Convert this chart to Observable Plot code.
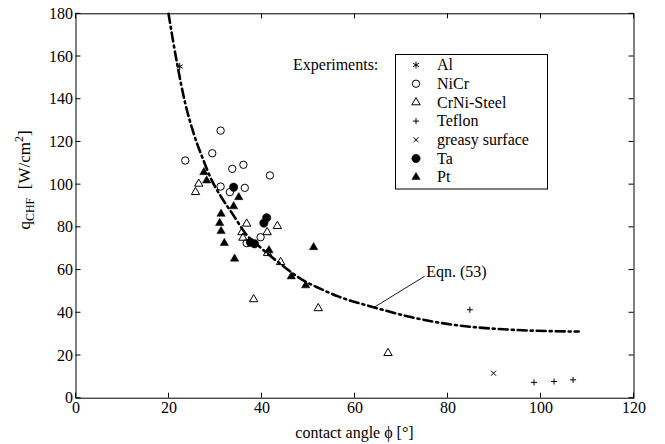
<!DOCTYPE html>
<html><head><meta charset="utf-8">
<script src="https://cdn.jsdelivr.net/npm/d3@7"></script>
<script src="https://cdn.jsdelivr.net/npm/@observablehq/plot@0.6"></script>
<style>body{margin:0;background:#fff} svg{font-family:"Liberation Serif",serif}</style>
</head><body><div id="chart"></div>
<script>
const xTicks = [0, 20, 40, 60, 80, 100, 120];
const yTicks = [0, 20, 40, 60, 80, 100, 120, 140, 160, 180];

const al = [[22.3, 155.3]];
const niCr = [[31.1,125.3],[23.5,111.3],[29.3,114.7],[33.6,107.4],[36.0,109.3],[41.7,104.3],[31.1,99.1],[33.1,96.5],[36.3,98.5],[39.7,75.4],[36.7,72.6]];
const crNiSteel = [[26.4,100.4],[25.7,96.5],[36.7,81.7],[35.7,77.7],[35.9,75.1],[43.3,80.6],[41.1,77.7],[41.2,67.9],[44.0,63.7],[38.2,46.3],[52.1,42.1],[67.1,21.1]];
const teflon = [[84.7,41.4],[98.5,7.4],[102.8,7.8],[106.9,8.6]];
const greasy = [[89.8,11.7]];
const ta = [[33.9,98.8],[41.0,84.5],[40.4,82.0],[37.5,73.0],[38.4,72.3]];
const pt = [[27.5,105.8],[28.1,101.9],[35.0,94.1],[33.9,89.8],[31.2,86.3],[30.9,82.0],[31.2,78.2],[31.9,72.6],[34.1,65.3],[41.5,69.2],[51.1,70.7],[46.3,57.0],[49.4,52.8]];

const eqn53 = [[19.9,180],[21.8,156],[23.5,138],[25.3,124],[27.3,112],[29.2,102],[31.3,94],[33.9,85.5],[36.5,77],[39.7,70.5],[43.6,63.5],[48.6,55.5],[52.6,51.2],[56.2,47.8],[64,42.6],[72,38],[79.8,34.8],[94.2,32],[108.1,31.2]];
const eqnLeader = [[64, 42.4], [74.9, 57]];
const eqnLabel = {x: 75.3, y: 59.3, text: "Eqn. (53)"};

const legendTitle = "Experiments:";
const legendNames = ["Al", "NiCr", "CrNi-Steel", "Teflon", "greasy surface", "Ta", "Pt"];
const legendSymbols = ["asterisk", "circle", "triangle", "plus", "times", "circle", "triangle"];
const legendFilled = [false, false, false, false, false, true, true];
const legendR = [3.3, 3.7, 3.1, 2.1, 2.4, 4.2, 3.1];

const px = d => d[0], py = d => d[1];

const chart = Plot.plot({
  width: 665, height: 444,
  marginLeft: 75.5, marginRight: 31.5, marginTop: 13.3, marginBottom: 46.3,
  style: {fontFamily: "Liberation Serif, serif", fontSize: "16px", color: "black", background: "white", overflow: "visible"},
  x: {domain: [0, 120], label: null},
  y: {domain: [0, 180], label: null},
  marks: [
    Plot.axisX(xTicks, {tickSize: 0, tickPadding: 3, fontSize: 16, fill: "black"}),
    Plot.axisY(yTicks, {tickSize: 0, tickPadding: 3, fontSize: 16, fill: "black"}),
    Plot.frame({stroke: "black", strokeWidth: 1}),
    Plot.line(eqn53, {x: px, y: py, curve: "monotone-x", stroke: "black", strokeWidth: 2.6, strokeDasharray: "9,4,2,4"}),
    Plot.line(eqnLeader, {x: px, y: py, stroke: "black", strokeWidth: 0.9}),
    Plot.text([eqnLabel], {x: "x", y: "y", text: "text", textAnchor: "start", fontSize: 16, fill: "black"}),
    Plot.dot(al, {x: px, y: py, symbol: "asterisk", r: 3.3, stroke: "black", strokeWidth: 1}),
    Plot.dot(niCr, {x: px, y: py, symbol: "circle", r: 3.7, stroke: "black", fill: "none", strokeWidth: 1}),
    Plot.dot(crNiSteel, {x: px, y: py, symbol: "triangle", r: 3.1, stroke: "black", fill: "none", strokeWidth: 1}),
    Plot.dot(teflon, {x: px, y: py, symbol: "plus", r: 2.1, stroke: "black", strokeWidth: 1}),
    Plot.dot(greasy, {x: px, y: py, symbol: "times", r: 2.4, stroke: "black", strokeWidth: 1}),
    Plot.dot(ta, {x: px, y: py, symbol: "circle", r: 4.2, fill: "black", stroke: "black", strokeWidth: 0.5}),
    Plot.dot(pt, {x: px, y: py, symbol: "triangle", r: 3.1, fill: "black", stroke: "black", strokeWidth: 0.5})
  ]
});

const svg = d3.select(chart);
const sx = chart.scale("x"), sy = chart.scale("y");
const xL = sx.apply(0), xR = sx.apply(120), yB = sy.apply(0), yT = sy.apply(180);
const tg = svg.append("g").attr("stroke", "black").attr("stroke-width", 1);
xTicks.forEach(t => {
  const x = sx.apply(t);
  tg.append("line").attr("x1", x).attr("x2", x).attr("y1", yB).attr("y2", yB - 5);
  tg.append("line").attr("x1", x).attr("x2", x).attr("y1", yT).attr("y2", yT + 5);
});
yTicks.forEach(t => {
  const y = sy.apply(t);
  tg.append("line").attr("x1", xL).attr("x2", xL + 5).attr("y1", y).attr("y2", y);
  tg.append("line").attr("x1", xR).attr("x2", xR - 5).attr("y1", y).attr("y2", y);
});

// axis titles
svg.append("text").attr("x", (xL + xR) / 2).attr("y", 438).attr("text-anchor", "middle")
  .attr("font-size", 16).attr("fill", "black").text("contact angle \u03D5 [\u00B0]");
const yl = svg.append("text").attr("transform", "translate(30,180) rotate(-90)")
  .attr("text-anchor", "middle").attr("font-size", 17).attr("fill", "black");
yl.append("tspan").text("q");
yl.append("tspan").attr("font-size", 12).attr("dy", 4).text("CHF");
yl.append("tspan").attr("dy", -4).text("\u00A0\u00A0[W/cm");
yl.append("tspan").attr("font-size", 12).attr("dy", -7).text("2");
yl.append("tspan").attr("dy", 7).text("]");

// legend
const lg = svg.append("g").attr("font-size", 16).attr("fill", "black").attr("text-anchor", "start");
lg.append("text").attr("x", 293).attr("y", 65).attr("dy", "0.32em").attr("text-anchor", "start").text(legendTitle);
lg.append("rect").attr("x", 395.5).attr("y", 54.5).attr("width", 152).attr("height", 134.5)
  .attr("fill", "white").attr("stroke", "black").attr("stroke-width", 1);
const symMap = {asterisk: d3.symbolAsterisk, circle: d3.symbolCircle, triangle: d3.symbolTriangle, plus: d3.symbolPlus, times: d3.symbolTimes};
legendNames.forEach((name, i) => {
  const y = 65 + i * 18.7;
  const filled = legendFilled[i];
  lg.append("path").attr("transform", `translate(416,${y})`)
    .attr("d", d3.symbol(symMap[legendSymbols[i]], Math.PI * legendR[i] ** 2)())
    .attr("fill", filled ? "black" : "none")
    .attr("stroke", "black").attr("stroke-width", filled ? 0.5 : 1);
  lg.append("text").attr("x", 437).attr("y", y).attr("dy", "0.32em").attr("text-anchor", "start").text(name);
});

document.getElementById("chart").appendChild(chart);
</script>
</body></html>
